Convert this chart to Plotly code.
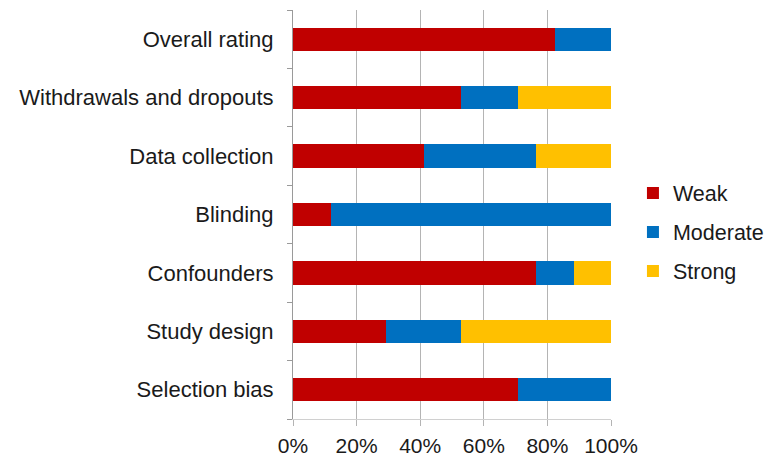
import plotly.graph_objects as go

categories = ["Selection bias", "Study design", "Confounders", "Blinding",
              "Data collection", "Withdrawals and dropouts", "Overall rating"]
weak = [70.6, 29.4, 76.5, 11.8, 41.2, 52.9, 82.4]
moderate = [29.4, 23.5, 11.8, 88.2, 35.3, 17.7, 17.6]
strong = [0.0, 47.1, 11.7, 0.0, 23.5, 29.4, 0.0]
tick_vals = [0, 20, 40, 60, 80, 100]
tick_text = ["0%", "20%", "40%", "60%", "80%", "100%"]

series = [("Weak", weak, "#C00000"), ("Moderate", moderate, "#0070C0"), ("Strong", strong, "#FFC000")]

fig = go.Figure()
for name, vals, col in series:
    fig.add_trace(go.Bar(y=categories, x=vals, name=name, orientation="h",
                         marker=dict(color=col, line=dict(width=0)),
                         legendgroup=name))

font = "Liberation Sans, Arial, sans-serif"
# page body has an 8px default margin: figure is sized/offset to compensate
fig.update_layout(
    barmode="stack",
    bargap=0.6,
    width=764, height=450,
    margin=dict(l=285, r=161, t=2, b=39),
    paper_bgcolor="white", plot_bgcolor="white",
    font=dict(family=font, size=22, color="#1a1a1a"),
    showlegend=True,
    legend=dict(xref="container", yref="container",
                x=0.818, y=0.502, xanchor="left", yanchor="middle",
                traceorder="grouped", tracegroupgap=8, itemwidth=30,
                font=dict(size=21.5, color="#1a1a1a")),
    xaxis=dict(range=[0, 100], tickvals=tick_vals, ticktext=tick_text,
               showgrid=True, gridcolor="#b4b4b4", gridwidth=1,
               ticks="outside", ticklen=6, tickcolor="#b4b4b4",
               tickfont=dict(size=21), ticklabelstandoff=2,
               showline=True, linecolor="#d0d0d0", linewidth=1,
               zeroline=False, automargin=False),
    yaxis=dict(categoryorder="array", categoryarray=categories,
               showline=True, linecolor="#9a9a9a", linewidth=1,
               ticks="outside", tickson="boundaries", ticklen=5, tickcolor="#9a9a9a",
               ticklabelstandoff=14, automargin=False,
               showgrid=False),
)
fig.write_html("out.html")
